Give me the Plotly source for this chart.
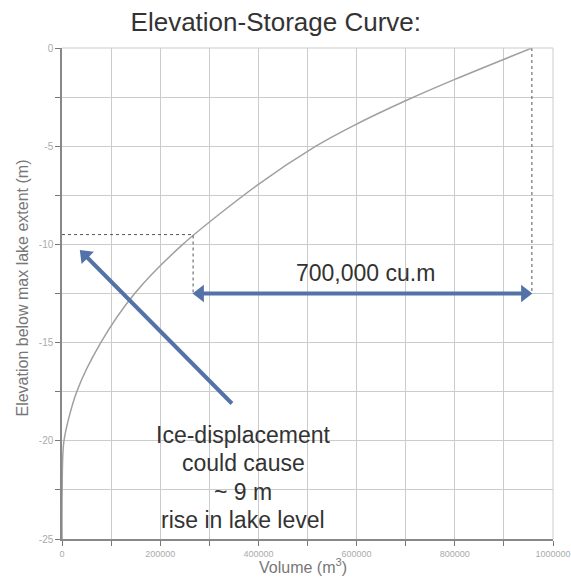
import math
import plotly.graph_objects as go

# Data
elevation = [-25, -22.5, -20, -17.5, -15, -12.5, -10, -7, -5, -4, -2.65, -1.6, 0]
volume = [0, 300, 4000, 30000, 79000, 148000, 246000, 397000, 517000, 590000, 703000, 800000, 957000]

x_ticks = [0, 200000, 400000, 600000, 800000, 1000000]
y_ticks = [0, -5, -10, -15, -20, -25]

marker_elev = -9.5
marker_vol = 267000
arrow_elev = -12.5
full_vol = 957000
diff_label = "700,000 cu.m"
diag_head = (37000, -10.3)
diag_tail = (346000, -18.1)
note_lines = ["Ice-displacement", "could cause", "~ 9 m", "rise in lake level"]
note_line_elev = [-19.7, -21.15, -22.6, -24.05]

FONT = "Liberation Sans, Arial"
blue = "#5272a8"

# plot-area scale (px per unit) used only to pull arrow heads back from their tips
PX_W, PX_H = 491.0, 491.0
ux = PX_W / 1000000.0
uy = PX_H / 25.0
head_px = 7.0

fig = go.Figure()
fig.add_trace(go.Scatter(x=volume, y=elevation, mode="lines",
                         line=dict(color="#a0a0a0", width=1.5, shape="spline", smoothing=0.8),
                         hoverinfo="skip", showlegend=False))

# dashed guide lines
dash = dict(color="#555555", width=1, dash="dot")
fig.add_trace(go.Scatter(x=[0, marker_vol, marker_vol], y=[marker_elev, marker_elev, arrow_elev],
                         mode="lines", line=dash, showlegend=False, hoverinfo="skip"))
fig.add_trace(go.Scatter(x=[full_vol, full_vol], y=[0, arrow_elev],
                         mode="lines", line=dash, showlegend=False, hoverinfo="skip"))

# horizontal double arrow
hx0 = marker_vol + head_px / ux
hx1 = full_vol - head_px / ux
fig.add_trace(go.Scatter(x=[hx0, hx1], y=[arrow_elev, arrow_elev], mode="lines+markers",
                         line=dict(color=blue, width=4),
                         marker=dict(symbol=["triangle-left", "triangle-right"], size=15, color=blue,
                                     line=dict(width=0)),
                         hoverinfo="skip", showlegend=False))

# diagonal arrow
dxp = (diag_tail[0] - diag_head[0]) * ux
dyp = (diag_head[1] - diag_tail[1]) * uy  # positive: tail lies below head on screen
L = math.hypot(dxp, dyp)
cx = diag_head[0] + head_px * dxp / L / ux
cy = diag_head[1] - head_px * dyp / L / uy
ang = -math.degrees(math.atan2(dxp, dyp))
fig.add_trace(go.Scatter(x=[diag_tail[0], cx], y=[diag_tail[1], cy], mode="lines",
                         line=dict(color=blue, width=4), hoverinfo="skip", showlegend=False))
fig.add_trace(go.Scatter(x=[cx], y=[cy], mode="markers",
                         marker=dict(symbol="triangle-up", size=15, color=blue, angle=ang,
                                     line=dict(width=0)),
                         hoverinfo="skip", showlegend=False))

fig.add_annotation(x=619000, y=-11.45, text=diff_label, showarrow=False,
                   font=dict(family=FONT, size=23, color="#333333"))

for line, ye in zip(note_lines, note_line_elev):
    fig.add_annotation(x=369000, y=ye, text=line, showarrow=False,
                       font=dict(family=FONT, size=23, color="#333333"))

# axis titles
fig.add_annotation(xref="paper", yref="paper", x=-0.102, y=0.511, textangle=-90,
                   text="Elevation below max lake extent (m)", showarrow=False,
                   font=dict(family=FONT, size=16, color="#777777"))
fig.add_annotation(xref="paper", yref="paper", x=0.49, y=-0.079,
                   text="Volume (m<sup>3</sup>)", showarrow=False,
                   font=dict(family=FONT, size=16, color="#777777"))

fig.update_layout(
    width=571, height=588,
    margin=dict(l=62, r=18, t=48, b=49, autoexpand=False),
    paper_bgcolor="white", plot_bgcolor="white",
    title=dict(text="Elevation-Storage Curve:", x=0.483, xanchor="center", xref="container",
               y=0.9626, yanchor="middle", yref="container",
               font=dict(family=FONT, size=26, color="#333333")),
    font=dict(family=FONT, color="#888888"),
)
fig.update_xaxes(range=[0, 1000000], tickvals=x_ticks, ticktext=[str(v) for v in x_ticks],
                 tickfont=dict(size=9, color="#aaaaaa"), automargin=False,
                 ticklabeloverflow="allow",
                 showgrid=True, gridcolor="#cccccc", gridwidth=1,
                 showline=True, linecolor="#888888", linewidth=1.5,
                 ticks="outside", ticklen=5, tickcolor="#777777",
                 minor=dict(dtick=100000, tick0=0, showgrid=True, gridcolor="#cccccc", ticks="outside",
                            ticklen=5, tickcolor="#777777"),
                 zeroline=False)
fig.update_yaxes(range=[-25, 0], tickvals=y_ticks, ticktext=[str(v) for v in y_ticks],
                 tickfont=dict(size=10, color="#aaaaaa"), automargin=False,
                 showgrid=True, gridcolor="#cccccc", gridwidth=1,
                 showline=True, linecolor="#888888", linewidth=1.5,
                 ticks="outside", ticklen=5, tickcolor="#777777",
                 minor=dict(dtick=2.5, tick0=0, showgrid=True, gridcolor="#cccccc", ticks="outside",
                            ticklen=5, tickcolor="#777777"),
                 zeroline=False)

# top and right edges in grid colour
fig.add_shape(type="line", xref="paper", yref="paper", x0=0, x1=1, y0=1, y1=1,
              line=dict(color="#cccccc", width=1))
fig.add_shape(type="line", xref="paper", yref="paper", x0=1, x1=1, y0=0, y1=1,
              line=dict(color="#cccccc", width=1))

# remove the default page margin so the figure fills the window exactly
fig.write_html("out.html", config={"displayModeBar": False},
               post_script="document.body.style.margin='0';document.body.style.overflow='hidden';")
